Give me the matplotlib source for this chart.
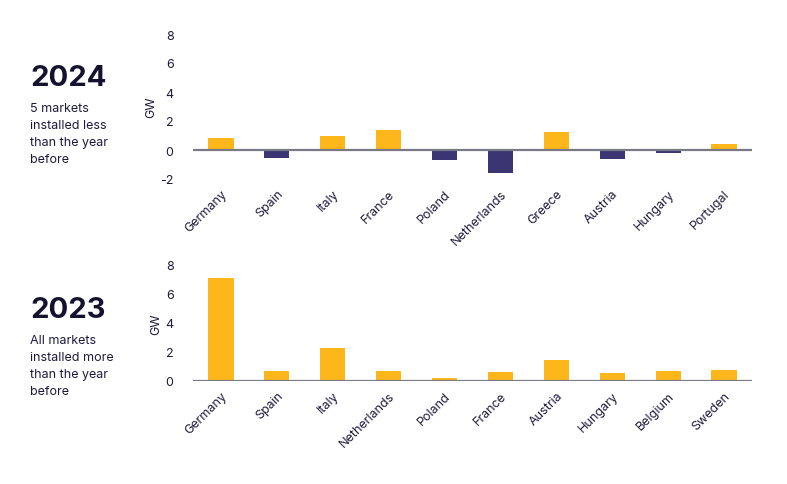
import matplotlib
matplotlib.use("Agg")
import matplotlib.pyplot as plt

# 2024: change vs previous year (GW)
markets_2024 = ["Germany", "Spain", "Italy", "France", "Poland",
                "Netherlands", "Greece", "Austria", "Hungary", "Portugal"]
change_2024 = [0.81, -0.58, 0.98, 1.37, -0.72, -1.56, 1.23, -0.65, -0.23, 0.40]

# 2023: change vs previous year (GW)
markets_2023 = ["Germany", "Spain", "Italy", "Netherlands", "Poland",
                "France", "Austria", "Hungary", "Belgium", "Sweden"]
change_2023 = [7.1, 0.66, 2.3, 0.66, 0.18, 0.6, 1.42, 0.53, 0.66, 0.73]

YELLOW = "#FDB71A"
NAVY = "#3B3573"
TEXT = "#1E1B3A"
LINE = "#7A7A86"

plt.rcParams.update({
    "font.family": ["Inter", "DejaVu Sans"],
    "text.color": TEXT,
    "axes.unicode_minus": False,
})

fig = plt.figure(figsize=(7.87, 4.85), dpi=100)
W, H = 787, 485


def panel(rect_px, names, vals, ylim, year, lines, title_y):
    x0, y_top, x1, y_bot = rect_px
    ax = fig.add_axes([x0 / W, 1 - y_bot / H, (x1 - x0) / W, (y_bot - y_top) / H])
    colors = [YELLOW if v >= 0 else NAVY for v in vals]
    ax.bar(range(len(vals)), vals, width=0.45, color=colors, zorder=2)
    ax.axhline(0, color=LINE, linewidth=1.6, zorder=3)
    ax.set_xlim(-0.5, len(vals) - 0.5)
    ax.set_ylim(*ylim)
    ax.set_yticks(range(ylim[0], ylim[1] + 1, 2))
    ax.set_xticks(range(len(names)))
    ax.set_xticklabels(names, rotation=45, ha="right", rotation_mode="anchor")
    ax.tick_params(axis="both", length=0, colors=TEXT, labelsize=9)
    ax.tick_params(axis="y", pad=14)
    ax.tick_params(axis="x", pad=6)
    for spine in ax.spines.values():
        spine.set_visible(False)
    ax.set_ylabel("GW", fontsize=9, color=TEXT, labelpad=2)
    ax.patch.set_alpha(0)

    fig.text(30 / W, 1 - title_y / H, year, fontsize=21, fontweight="bold",
             color="#14122E", va="center", ha="left")
    fig.text(30 / W, 1 - (title_y + 24) / H, "\n".join(lines), fontsize=9,
             color=TEXT, va="top", ha="left", linespacing=1.55)
    return ax


panel((193, 35, 752, 180), markets_2024, change_2024, (-2, 8), "2024",
      ["5 markets", "installed less", "than the year", "before"], 79)
panel((193, 266, 752, 382), markets_2023, change_2023, (0, 8), "2023",
      ["All markets", "installed more", "than the year", "before"], 311)

fig.savefig("out.png", dpi=100, facecolor="white")
